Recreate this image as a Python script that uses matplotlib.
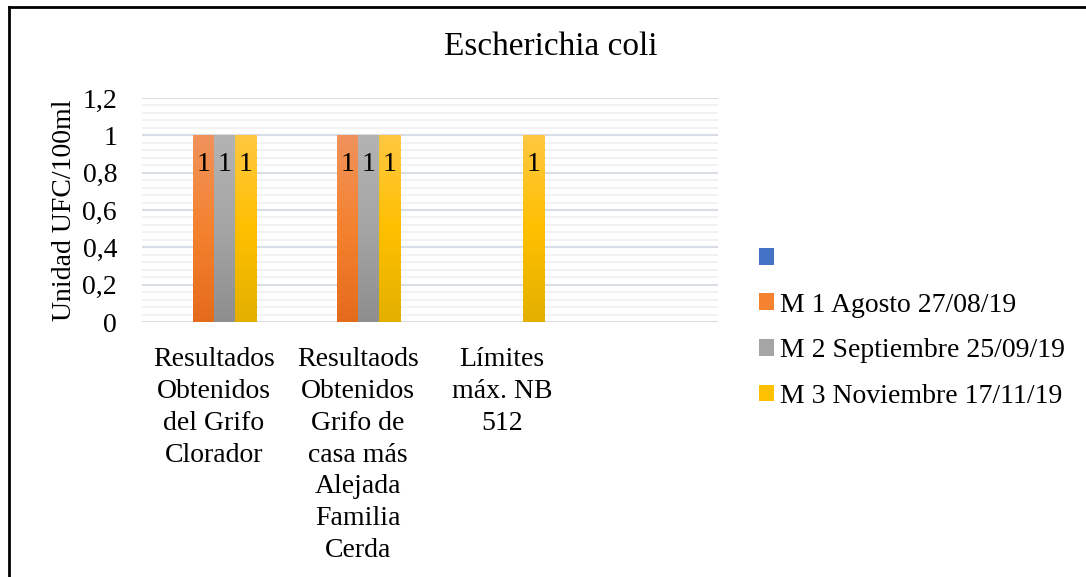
import matplotlib
matplotlib.use("Agg")
import matplotlib.pyplot as plt
import numpy as np
from matplotlib.colors import LinearSegmentedColormap
from matplotlib.patches import Patch
from matplotlib.lines import Line2D

# ------------------ datos ------------------
categorias = ["Resultados\nObtenidos\ndel Grifo\nClorador",
              "Resultaods\nObtenidos\nGrifo de\ncasa más\nAlejada\nFamilia\nCerda",
              "Límites\nmáx. NB\n512",
              ""]
series = ["", "M 1 Agosto 27/08/19", "M 2 Septiembre 25/09/19", "M 3 Noviembre 17/11/19"]
serie_0 = [np.nan, np.nan, np.nan, np.nan]
serie_1 = [1, 1, np.nan, np.nan]
serie_2 = [1, 1, np.nan, np.nan]
serie_3 = [1, 1, 1, np.nan]
yticks = [0, 0.2, 0.4, 0.6, 0.8, 1, 1.2]
ytick_labels = ["0", "0,2", "0,4", "0,6", "0,8", "1", "1,2"]

# gradientes (arriba, medio, abajo)
gradientes = [["#6f95d8", "#4472c4", "#3a64b0"],
              ["#f0925c", "#f4822f", "#e56b1c"],
              ["#b3b3b3", "#a5a5a5", "#8e8e8e"],
              ["#ffc742", "#ffc000", "#e3b000"]]

plt.rcParams['font.family'] = ['Liberation Serif', 'DejaVu Serif']

fig = plt.figure(figsize=(10.86, 5.77), dpi=100)
ax = fig.add_axes([142 / 1086, 1 - 322 / 577, 576 / 1086, 224 / 577])

x = np.arange(len(categorias))
ancho = 0.146
valores = [serie_0, serie_1, serie_2, serie_3]
handles = []
for i, vals in enumerate(valores):
    offs = (i - 1.5) * ancho
    bars = ax.bar(x + offs, np.nan_to_num(vals), ancho, color=gradientes[i][1], zorder=3)
    cmap = LinearSegmentedColormap.from_list("g%d" % i, gradientes[i][::-1])
    grad = np.linspace(0, 1, 256).reshape(-1, 1)
    for b, v in zip(bars, vals):
        if np.isnan(v):
            b.set_visible(False)
            continue
        im = ax.imshow(grad, cmap=cmap, origin="lower", aspect="auto",
                       extent=[b.get_x(), b.get_x() + b.get_width(), 0, v], zorder=4)
        im.set_clip_path(b)
        ax.annotate("1" if v == 1 else str(v), (b.get_x() + b.get_width() / 2, v),
                    xytext=(0, -29), textcoords="offset pixels", ha="center", va="center",
                    fontsize=20, zorder=5)
    handles.append(Patch(facecolor=gradientes[i][1]))

ax.set_xlim(-0.5, 3.5)
ax.set_ylim(0, 1.2)

# rejilla
ax.set_yticks(yticks)
ax.set_yticklabels(ytick_labels)
ax.set_yticks(np.arange(0, 1.2001, 0.04), minor=True)
ax.grid(axis="y", which="major", color="#d9dde4", linewidth=1.5, zorder=0)
ax.grid(axis="y", which="minor", color="#f1f1f3", linewidth=1.3, zorder=0)
ax.set_axisbelow(True)
for s in ax.spines.values():
    s.set_visible(False)

ax.set_xticks(x)
ax.set_xticklabels(categorias, fontsize=20, linespacing=1.36)
ax.tick_params(axis="x", length=0, pad=18)
ax.tick_params(axis="y", which="both", length=0, pad=18, labelsize=20)

ax.set_ylabel("Unidad UFC/100ml", fontsize=20)
ax.yaxis.set_label_coords((77 - 142) / 576, 0.5)

fig.text(551 / 1086, 1 - 47 / 577, "Escherichia coli", ha="center", va="center", fontsize=24)

leg = fig.legend(handles, series, loc="upper left", bbox_to_anchor=(748 / 1086, 1 - 236 / 577),
                 frameon=False, fontsize=20, handlelength=0.55, handleheight=0.55,
                 handletextpad=0.2, labelspacing=0.74, borderaxespad=0)

# marco
fig.add_artist(Line2D([9 / 1086, 9 / 1086], [0, 1 - 7 / 577], color="black", linewidth=2,
                      transform=fig.transFigure))
fig.add_artist(Line2D([9 / 1086, 1], [1 - 7 / 577, 1 - 7 / 577], color="black", linewidth=2,
                      transform=fig.transFigure))

fig.savefig("out.png", dpi=100)
